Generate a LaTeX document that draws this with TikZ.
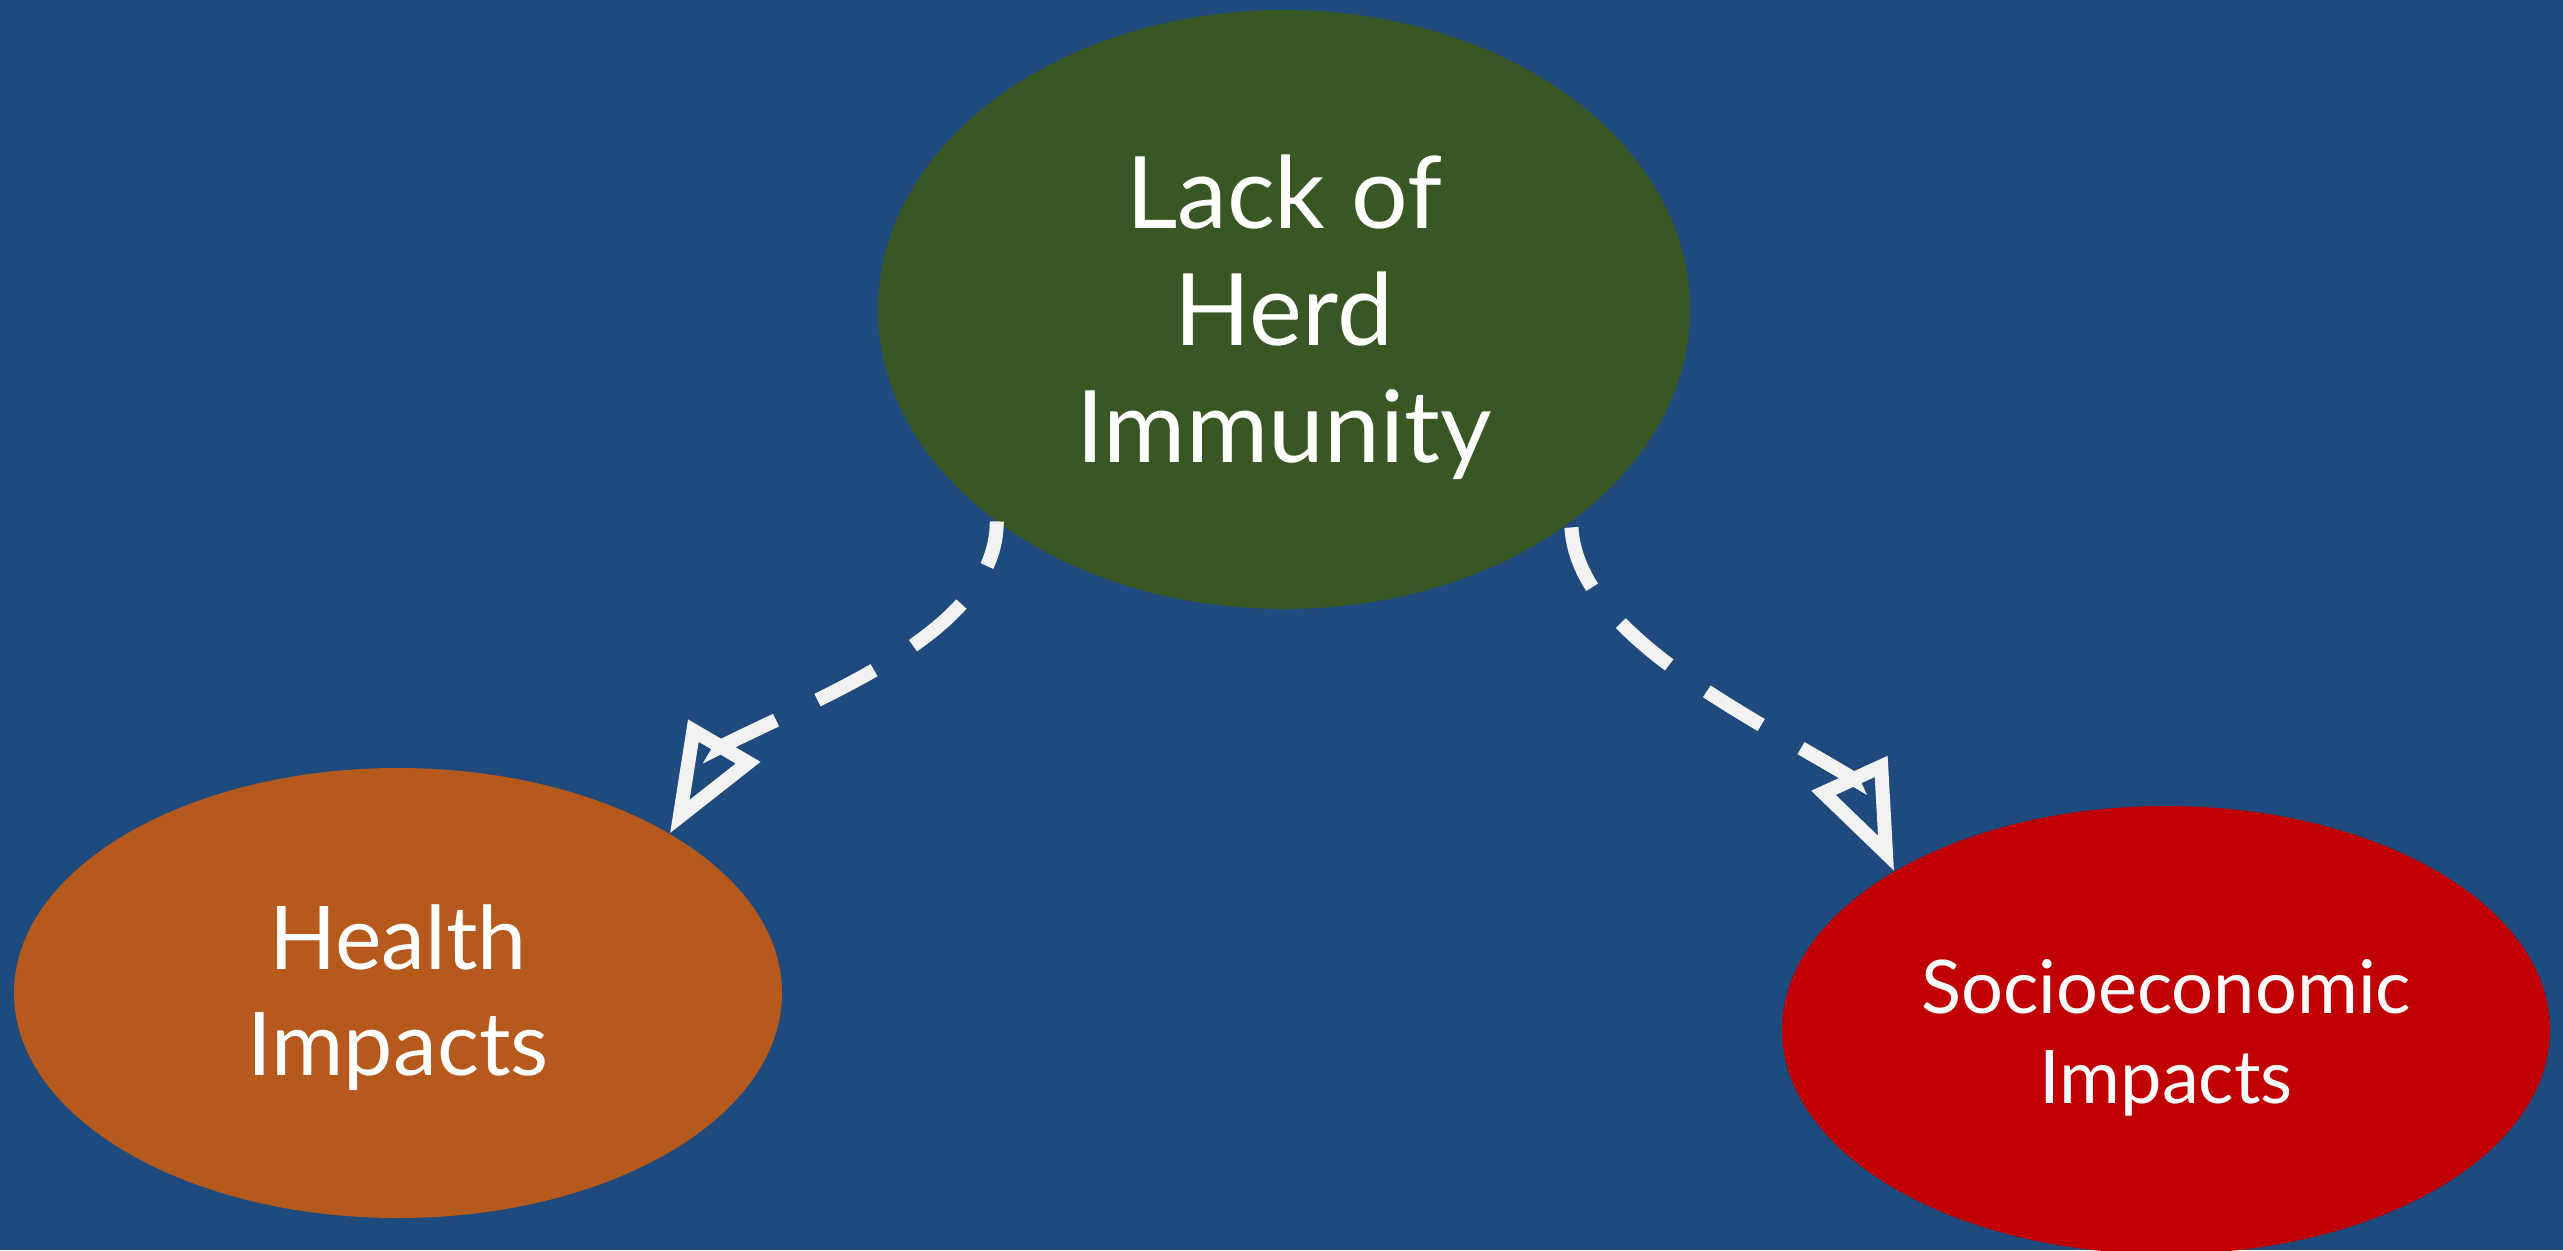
\documentclass[tikz,border=0pt]{standalone}
\usepackage{fontspec}
\setmainfont{Lato}
\usetikzlibrary{shapes.geometric,arrows.meta,bending,calc}
\definecolor{bgblue}{HTML}{1F4A7D}
\definecolor{herdgreen}{HTML}{385723}
\definecolor{healthorange}{HTML}{B5591D}
\definecolor{socred}{HTML}{C00000}
\definecolor{linkwhite}{HTML}{F2F2F2}
\begin{document}
\begin{tikzpicture}[x=1pt,y=-1pt,
  blob/.style={ellipse, inner sep=0pt, draw=none},
  label text/.style={text=white, align=center, inner sep=0pt},
  link/.style={draw=linkwhite, line width=14pt, line cap=butt,
    dash pattern=on 64pt off 46pt,
    -{Triangle[open,length=108pt,width=80pt]}}]
  % background
  \fill[bgblue] (0,0) rectangle (2563,1250);
  \useasboundingbox (0,0) rectangle (2563,1250);

  % ellipses
  \node[blob, fill=herdgreen, minimum width=812pt, minimum height=599pt]
        (herd) at (1284,309.5) {};
  \node[blob, fill=healthorange, minimum width=768pt, minimum height=450pt]
        (health) at (398,993) {};
  \node[blob, fill=socred, minimum width=768pt, minimum height=448pt]
        (socio) at (2166,1030) {};

  % texts
  \node[label text, font=\fontsize{100}{117}\selectfont] (herdtext)
        at ([yshift=-8pt]herd.center) {Lack of\\Herd\\Immunity};
  \node[label text, font=\fontsize{88}{106}\selectfont] (healthtext)
        at ([yshift=-5pt]health.center) {Health\\Impacts};
  \node[label text, font=\fontsize{74}{90}\selectfont] (sociotext)
        at ([yshift=-8pt]socio.center) {Socioeconomic\\Impacts};

  % back ends of the arrow heads
  \coordinate (hq) at ($(health.north east)+(51,-87)$);
  \coordinate (sq) at ($(socio.north west)+(-43,-94)$);

  % dashed connectors
  \draw[link, dash phase=18pt] (herd.south west)
        .. controls +(0,109) and +(110,-55) .. (hq) -- (health.north east);
  \draw[link, dash phase=104pt] (herd.south east)
        .. controls +(0,109) and +(-110,-66) .. (sq) -- (socio.north west);
\end{tikzpicture}
\end{document}
